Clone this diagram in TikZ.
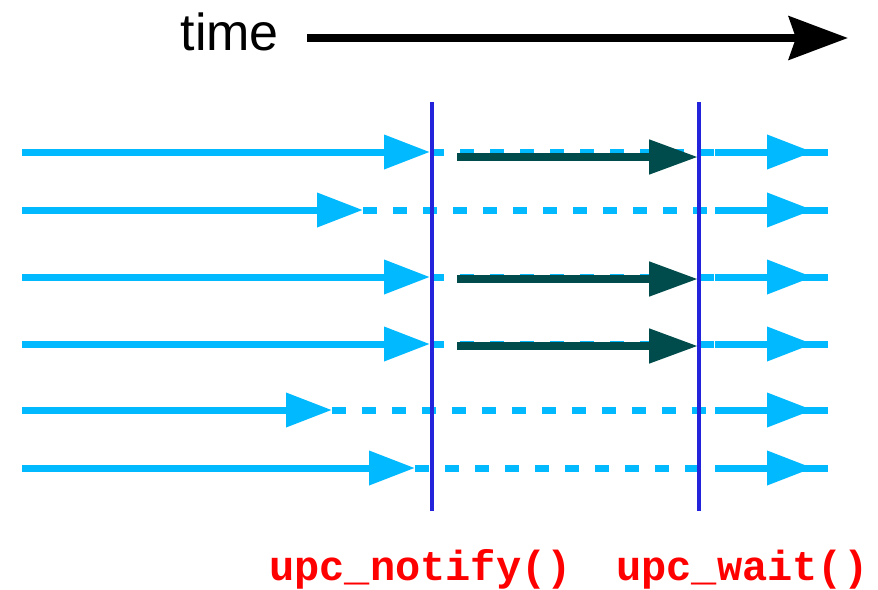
\documentclass[tikz,border=0pt]{standalone}
\usepackage{fontspec}
\setmainfont{Liberation Sans}
\newfontfamily\codefont{Liberation Mono}
\usetikzlibrary{arrows.meta}
\definecolor{skyb}{RGB}{0,185,255}
\definecolor{darkteal}{RGB}{0,75,75}
\definecolor{barblue}{RGB}{35,35,220}
\definecolor{codered}{RGB}{255,0,0}
\tikzset{
  solidflow/.style={draw=skyb, line width=7pt, -{Triangle[length=46pt,width=33pt]}},
  dashflow/.style={draw=skyb, line width=7pt, dash pattern=on 14pt off 16pt},
  tailflow/.style={draw=skyb, line width=7pt},
  msgarrow/.style={draw=darkteal, line width=8pt, -{Triangle[length=49pt,width=33pt]}},
  barline/.style={draw=barblue, line width=4.5pt},
  timearrow/.style={draw=black, line width=8.5pt, -{Stealth[length=59pt,width=43pt,inset=7pt]}},
  lbl/.style={text=codered, font=\codefont\bfseries\fontsize{42}{42}\selectfont, inner sep=0pt, anchor=base west},
}
\begin{document}
\begin{tikzpicture}[x=1pt,y=-1pt]
\useasboundingbox (0,0) rectangle (878,589);
% time
\node[font=\fontsize{52}{52}\selectfont, inner sep=0pt, anchor=base east] (timelbl) at (279,50) {time};
\coordinate (t0) at (307,38);
\coordinate (t1) at (848,38);
\draw[timearrow] (t0) -- (t1);
% rows: y, tip x
\foreach \n/\y/\tip in {1/152/430, 2/210/363, 3/277/430, 4/344/430, 5/410/332, 6/468/415}{
  \coordinate (s\n) at (22,\y);
  \coordinate (a\n) at (\tip,\y);
  \coordinate (w\n) at (715,\y);
  \coordinate (h\n) at (813,\y);
  \coordinate (e\n) at (828,\y);
  \draw[dashflow] (a\n) -- (w\n);
  \draw[solidflow] (s\n) -- (a\n);
  \draw[tailflow] (w\n) -- (e\n);
  \draw[solidflow] (w\n) -- (h\n);
}
% barrier lines
\coordinate (n0) at (432,102);
\coordinate (n1) at (432,511);
\coordinate (v0) at (699,102);
\coordinate (v1) at (699,511);
\draw[barline] (n0) -- (n1);
\draw[barline] (v0) -- (v1);
% message arrows
\foreach \n/\y in {1/157, 3/279, 4/346}{
  \coordinate (m\n) at (457,\y);
  \coordinate (k\n) at (698,\y);
  \draw[msgarrow] (m\n) -- (k\n);
}
% labels
\node[lbl] (notify) at (269,580) {upc\_notify()};
\node[lbl] (wait) at (616,580) {upc\_wait()};
\end{tikzpicture}
\end{document}
